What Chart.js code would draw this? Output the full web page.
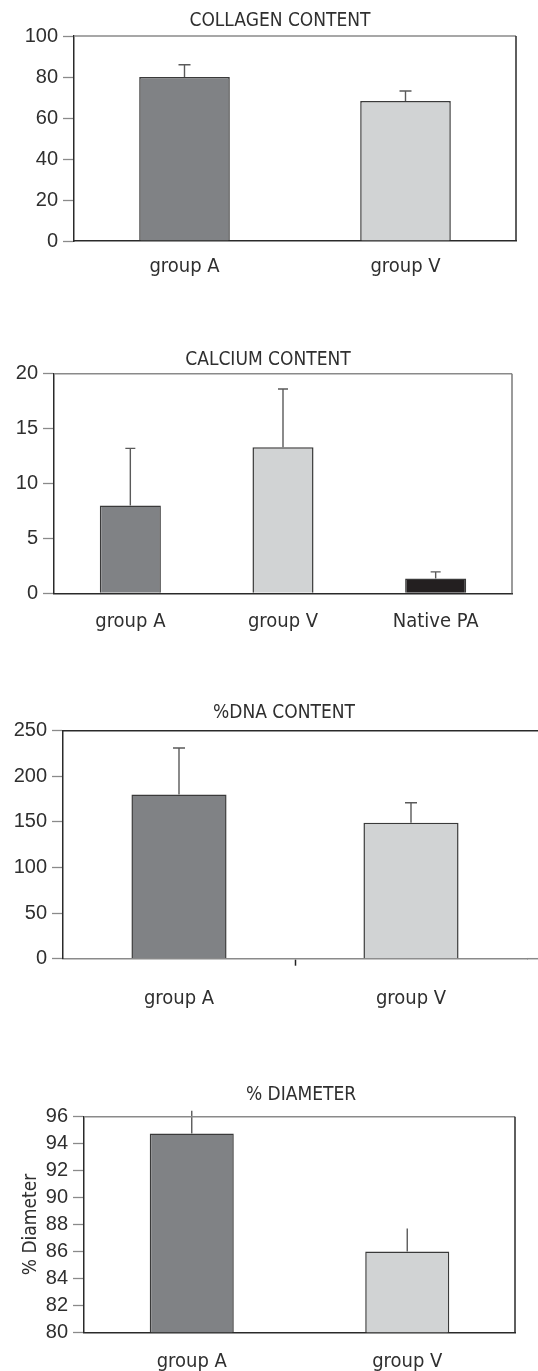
<!DOCTYPE html>
<html>
<head>
<meta charset="utf-8">
<script src="https://cdn.jsdelivr.net/npm/chart.js@4/dist/chart.umd.min.js"></script>
<style>
  html, body { margin: 0; padding: 0; background: #fff; }
  body { width: 538px; height: 1371px; position: relative; overflow: hidden; }
  .box { position: absolute; left: 0; width: 538px; }
</style>
</head>
<body>
<div class="box" style="top:0px;height:300px"><canvas id="collagen"></canvas></div>
<div class="box" style="top:330px;height:310px"><canvas id="calcium"></canvas></div>
<div class="box" style="top:690px;height:320px"><canvas id="dna"></canvas></div>
<div class="box" style="top:1040px;height:331px"><canvas id="diameter"></canvas></div>
<script>
// data
const collagenLabels = ['group A', 'group V'];
const collagenValues = [80, 68.3];
const collagenErrors = [6, 4.9];

const calciumLabels = ['group A', 'group V', 'Native PA'];
const calciumValues = [8, 13.3, 1.35];
const calciumErrors = [5.2, 5.3, 0.6];

const dnaLabels = ['group A', 'group V'];
const dnaValues = [180, 149];
const dnaErrors = [51, 22];

const diameterLabels = ['group A', 'group V'];
const diameterValues = [94.75, 86.0];
const diameterErrors = [1.7, 1.7];

const DARK = '#808285', LIGHT = '#d1d3d4', BLACK = '#231f20';
const TEXT = '#2f2f2f';
const NARROW = "'DejaVu Sans Condensed', 'Liberation Sans', sans-serif";
const TICKFONT = { family: "'Liberation Sans', Arial, sans-serif", size: 20 };
const LABELFONT = { family: NARROW, size: 20 };

// chart title, placed by hand over the plot
const titleText = {
    id: 'titleText',
    afterDraw(chart, args, opts) {
        const ctx = chart.ctx;
        ctx.save();
        ctx.font = '19px ' + NARROW;
        ctx.fillStyle = TEXT;
        ctx.textAlign = 'center';
        ctx.textBaseline = 'middle';
        ctx.fillText(opts.text, opts.x, opts.y);
        ctx.restore();
    }
};

// error bars drawn above each bar
const errorBars = {
    id: 'errorBars',
    afterDatasetsDraw(chart, args, opts) {
        const ctx = chart.ctx;
        const y = chart.scales.y;
        const ds = chart.data.datasets[0];
        ctx.save();
        ctx.strokeStyle = '#5a5a5a';
        ctx.lineWidth = 1.4;
        chart.getDatasetMeta(0).data.forEach((bar, i) => {
            const top = y.getPixelForValue(ds.data[i] + opts.errors[i]);
            ctx.beginPath();
            ctx.moveTo(bar.x, bar.y);
            ctx.lineTo(bar.x, top);
            if (opts.cap) {
                ctx.moveTo(bar.x - opts.cap, top);
                ctx.lineTo(bar.x + opts.cap, top);
            }
            ctx.stroke();
        });
        ctx.restore();
    }
};

// top and right edges of the plot frame
const frame = {
    id: 'frame',
    afterDraw(chart, args, opts) {
        const ctx = chart.ctx;
        const a = chart.chartArea;
        ctx.save();
        ctx.lineWidth = 1.5;
        const right = opts.extend ? chart.width : a.right;
        ctx.strokeStyle = opts.topColor;
        ctx.beginPath();
        ctx.moveTo(a.left, a.top);
        ctx.lineTo(right, a.top);
        ctx.stroke();
        if (opts.extend) {
            ctx.strokeStyle = opts.bottomColor;
            ctx.beginPath();
            ctx.moveTo(a.right, a.bottom);
            ctx.lineTo(right, a.bottom);
            ctx.stroke();
        }
        if (opts.rightColor) {
            ctx.strokeStyle = opts.rightColor;
            ctx.beginPath();
            ctx.moveTo(a.right, a.top);
            ctx.lineTo(a.right, a.bottom);
            ctx.stroke();
        }
        ctx.restore();
    }
};

function makeChart(id, s) {
    return new Chart(document.getElementById(id), {
        type: 'bar',
        data: {
            labels: s.labels,
            datasets: [{
                data: s.values,
                backgroundColor: s.colors,
                borderColor: '#3a3a3a',
                borderWidth: 1.5,
                borderSkipped: 'bottom',
                categoryPercentage: 1,
                barPercentage: s.barPct
            }]
        },
        options: {
            responsive: true,
            maintainAspectRatio: false,
            animation: false,
            layout: { padding: { left: 0, right: s.width - s.plotRight, top: s.plotTop, bottom: 0 } },
            plugins: {
                legend: { display: false },
                tooltip: { enabled: false },
                title: { display: false },
                titleText: { text: s.title, x: s.titleX, y: s.titleY },
                errorBars: { errors: s.errors, cap: s.cap },
                frame: s.frame
            },
            scales: {
                x: {
                    grid: {
                        display: !!s.midTick,
                        offset: true,
                        drawOnChartArea: false,
                        drawTicks: !!s.midTick,
                        tickLength: 7,
                        tickColor: ctx => ctx.index === 1 ? '#222' : 'rgba(0,0,0,0)',
                        tickWidth: 1.5
                    },
                    border: { display: true, color: s.bottomColor, width: 1.5 },
                    ticks: { color: TEXT, font: LABELFONT, padding: s.labelPad },
                    afterFit(scale) { scale.height = s.height - s.plotBottom; }
                },
                y: {
                    min: s.min, max: s.max,
                    ticks: { stepSize: s.step, autoSkip: false, color: TEXT, font: TICKFONT, padding: 5 },
                    grid: {
                        display: true,
                        drawOnChartArea: false,
                        drawTicks: true,
                        tickLength: 11,
                        tickColor: '#8a8a8a',
                        tickWidth: 1.3
                    },
                    border: { display: true, color: '#2a2a2a', width: 1.5 },
                    title: s.yTitle ? {
                        display: true, text: s.yTitle, color: TEXT,
                        font: { family: NARROW, size: 19 },
                        padding: { top: 20, bottom: 0 }
                    } : { display: false },
                    afterFit(scale) { scale.width = s.plotLeft; }
                }
            }
        },
        plugins: [errorBars, frame, titleText]
    });
}

makeChart('collagen', {
    labels: collagenLabels, values: collagenValues, errors: collagenErrors,
    colors: [DARK, LIGHT], title: 'COLLAGEN CONTENT',
    width: 538, height: 300, plotLeft: 74, plotRight: 516, plotTop: 36, plotBottom: 241,
    titleX: 280, titleY: 21, labelPad: 14, barPct: 0.41, cap: 6,
    min: 0, max: 100, step: 20, bottomColor: '#2a2a2a',
    frame: { topColor: '#8a8a8a', rightColor: '#2a2a2a' }
});

makeChart('calcium', {
    labels: calciumLabels, values: calciumValues, errors: calciumErrors,
    colors: [DARK, LIGHT, BLACK], title: 'CALCIUM CONTENT',
    width: 538, height: 310, plotLeft: 54, plotRight: 512, plotTop: 43.7, plotBottom: 263.3,
    titleX: 268, titleY: 30, labelPad: 16, barPct: 0.40, cap: 5,
    min: 0, max: 20, step: 5, bottomColor: '#2a2a2a',
    frame: { topColor: '#8a8a8a', rightColor: '#7a7a7a' }
});

makeChart('dna', {
    labels: dnaLabels, values: dnaValues, errors: dnaErrors,
    colors: [DARK, LIGHT], title: '%DNA CONTENT',
    width: 538, height: 320, plotLeft: 63, plotRight: 527, plotTop: 40.7, plotBottom: 268.7,
    titleX: 284, titleY: 23, labelPad: 21, barPct: 0.41, cap: 6,
    min: 0, max: 250, step: 50, bottomColor: '#8a8a8a', midTick: true,
    frame: { topColor: '#2a2a2a', bottomColor: '#8a8a8a', extend: true }
});

makeChart('diameter', {
    labels: diameterLabels, values: diameterValues, errors: diameterErrors,
    colors: [DARK, LIGHT], title: '% DIAMETER', yTitle: '% Diameter',
    width: 538, height: 331, plotLeft: 84, plotRight: 515, plotTop: 76.7, plotBottom: 292.3,
    titleX: 301, titleY: 55, labelPad: 17, barPct: 0.39, cap: 0,
    min: 80, max: 96, step: 2, bottomColor: '#2a2a2a',
    frame: { topColor: '#8a8a8a', rightColor: '#2a2a2a' }
});
</script>
</body>
</html>
